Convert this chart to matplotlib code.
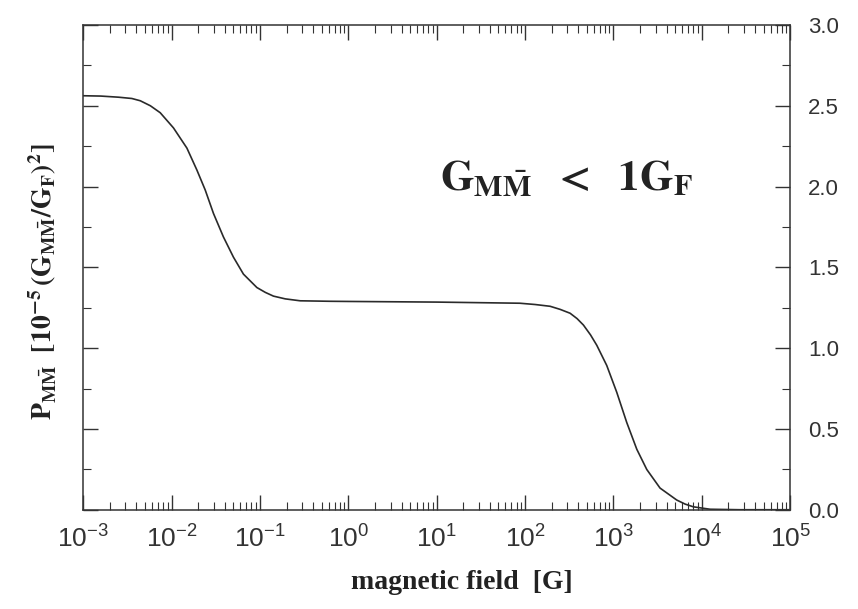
import numpy as np
import matplotlib
matplotlib.use("Agg")
import matplotlib.pyplot as plt
from matplotlib.ticker import FixedLocator, MultipleLocator, NullFormatter

# values
field = [1.0e-3, 1.58e-3, 2.51e-3, 3.55e-3, 4.42e-3, 5.75e-3, 7.43e-3,
         1.05e-2, 1.49e-2, 1.93e-2, 2.40e-2, 2.98e-2, 3.86e-2, 5.01e-2,
         6.50e-2, 9.23e-2, 0.115, 0.142, 0.193, 0.285, 0.622, 1.0, 10.0,
         87.0, 130.0, 192.0, 249.0, 323.0, 387.0, 457.0, 550.0, 647.0,
         839.0, 1089.0, 1413.0, 1837.0, 2382.0, 3365.0, 5200.0, 6460.0,
         8017.0, 12390.0, 27000.0, 1.0e5]
prob = [2.562, 2.560, 2.553, 2.545, 2.531, 2.500, 2.457,
        2.363, 2.238, 2.103, 1.979, 1.833, 1.688, 1.563,
        1.458, 1.375, 1.345, 1.322, 1.305, 1.293, 1.290, 1.289, 1.285,
        1.278, 1.270, 1.259, 1.240, 1.216, 1.183, 1.143, 1.082, 1.018,
        0.893, 0.727, 0.540, 0.374, 0.249, 0.134, 0.060, 0.035,
        0.018, 0.003, 0.0, 0.0]

x_ticks = [1e-3, 1e-2, 1e-1, 1e0, 1e1, 1e2, 1e3, 1e4, 1e5]
x_tick_labels = [r'$10^{-3}$', r'$10^{-2}$', r'$10^{-1}$', r'$10^{0}$', r'$10^{1}$',
                 r'$10^{2}$', r'$10^{3}$', r'$10^{4}$', r'$10^{5}$']
y_ticks = [0.0, 0.5, 1.0, 1.5, 2.0, 2.5, 3.0]

plt.rcParams['mathtext.fontset'] = 'stix'
plt.rcParams['mathtext.default'] = 'regular'
plt.rcParams['font.family'] = 'Liberation Sans'

fig = plt.figure(figsize=(8.58, 6.09), dpi=100)
ax = fig.add_axes([0.097, 0.163, 0.824, 0.796])

ax.plot(field, prob, color='#2a2a2a', linewidth=1.2,
        solid_joinstyle='round', solid_capstyle='round')

ax.set_xscale('log')
ax.set_xlim(1e-3, 1e5)
ax.set_ylim(0, 3.0)

minor_x = [m * d for d in x_ticks[:-1] for m in range(2, 10)]
ax.set_xticks(x_ticks)
ax.set_xticklabels(x_tick_labels)
ax.xaxis.set_minor_locator(FixedLocator(minor_x))
ax.xaxis.set_minor_formatter(NullFormatter())
ax.set_yticks(y_ticks)
ax.set_yticklabels([f'{v:.1f}' for v in y_ticks])
ax.yaxis.set_minor_locator(MultipleLocator(0.25))

ax.tick_params(axis='both', which='both', direction='in', top=True, right=True,
               colors='#333333')
ax.tick_params(axis='x', which='major', length=11, width=1.0, labelsize=19, pad=11)
ax.tick_params(axis='x', which='minor', length=6, width=0.8)
ax.tick_params(axis='y', which='major', length=11, width=1.0, labelsize=16,
               left=True, right=True, labelleft=False, labelright=True, pad=13)
ax.tick_params(axis='y', which='minor', length=6, width=0.8)

for sp in ax.spines.values():
    sp.set_linewidth(1.1)
    sp.set_color('#333333')

ax.set_xlabel('magnetic field  [G]', fontsize=20, fontweight='bold',
              family='Liberation Serif', color='#222222')
ax.xaxis.set_label_coords(0.536, -0.125)

ax.set_ylabel(r'$\mathbf{P}_{\mathbf{M\bar{M}}}\ \ \mathbf{[10^{-5}\,(G_{M\bar{M}}/G_F)^2]}$',
              fontsize=20, color='#222222')
ax.yaxis.set_label_coords(-0.035, 0.47)

ax.text(11.0, 1.98, r'$\mathbf{G}_{\mathbf{M\bar{M}}}\ \ \mathbf{<}\ \ \mathbf{1G_F}$',
        fontsize=31, color='#222222', ha='left', va='baseline')

fig.savefig('out.png', dpi=100, facecolor='white')
